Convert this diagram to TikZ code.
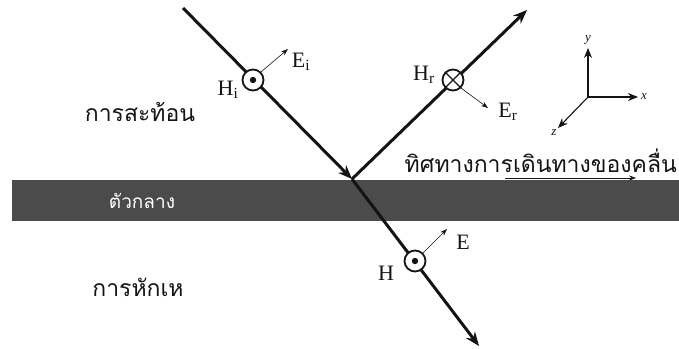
\documentclass[tikz,border=0pt]{standalone}
\usepackage{fontspec}
\setmainfont{Liberation Serif}
\newfontfamily\thai[Script=Thai]{Loma}
\usetikzlibrary{arrows.meta,positioning,calc}
\definecolor{ink}{HTML}{141414}
\definecolor{slab}{HTML}{4B4B4B}
\newcommand{\thaitext}{\thai\fontsize{23}{23}\selectfont}
\newcommand{\symtext}{\fontsize{22}{22}\selectfont}

\begin{document}
\begin{tikzpicture}[x=1pt,y=-1pt,
  ray/.style={ink,line width=3pt,-{Stealth[length=14pt,width=11pt]}},
  field/.style={ink,line width=.6pt,-{Stealth[length=7pt,width=5pt]}},
  pole/.style={circle,draw=ink,line width=1.8pt,fill=white,minimum size=21pt,inner sep=0pt},
  axis/.style={ink,line width=1.1pt,-{Stealth[length=10pt,width=8pt]}},
  lbl/.style={inner sep=0pt,text=ink}]
\useasboundingbox (0,0) rectangle (679,348);
% medium
\fill[slab] (12,180) rectangle (679,221);
\node[lbl,text=white] (medium) at (142,201) {\thai\fontsize{19}{19}\selectfont ตัวกลาง};
% rays
\coordinate (src) at (183,8);
\coordinate (hit) at (352,179);
\coordinate (refl) at (527,10);
\coordinate (out) at (479,346);
\draw[ray] (src) -- (hit);
\draw[ray] (hit) -- (refl);
\draw[ray] (hit) -- (out);
% incident
\node[pole] (Hi) at (253,80) {};
\fill[ink] (Hi) circle (3.2);
\coordinate (Ei) at (288,49);
\draw[field] (Hi.north east) -- (Ei);
\node[lbl] (Hil) at (228,90) {\symtext H$_\mathrm{i}$};
\node[lbl] (Eil) at (301,62) {\symtext E$_\mathrm{i}$};
% reflected
\node[pole] (Hr) at (453,80) {};
\draw[ink,line width=1.2pt] (Hr.45) -- (Hr.225) (Hr.135) -- (Hr.315);
\coordinate (Er) at (488,108);
\draw[field] (Hr.south east) -- (Er);
\node[lbl] (Hrl) at (424,75) {\symtext H$_\mathrm{r}$};
\node[lbl] (Erl) at (508,112) {\symtext E$_\mathrm{r}$};
% transmitted
\node[pole] (Ht) at (415,261) {};
\fill[ink] (Ht) circle (3.2);
\coordinate (Et) at (447,229);
\draw[field] (Ht.north east) -- (Et);
\node[lbl] (Htl) at (386,273) {\symtext H};
\node[lbl] (Etl) at (463,242) {\symtext E};
% axes
\coordinate (o) at (588,97);
\coordinate (ya) at (588,48);
\coordinate (xa) at (638,97);
\coordinate (za) at (558,128);
\draw[axis] (o) -- (ya);
\draw[axis] (o) -- (xa);
\draw[axis] (o) -- (za);
\node[lbl,above=3pt of ya] (yl) {\fontsize{13}{13}\selectfont\itshape y};
\node[lbl,right=3pt of xa] (xl) {\fontsize{13}{13}\selectfont\itshape x};
\node[lbl,below left=2pt of za] (zl) {\fontsize{13}{13}\selectfont\itshape z};
% texts
\node[lbl] (reflt) at (140,112) {\thaitext การสะท้อน};
\node[lbl] (refrt) at (138,287) {\thaitext การหักเห};
\node[lbl,anchor=east] (prop) at (677,161) {\thaitext ทิศทางการเดินทางของคลื่น};
\coordinate (pa) at (505,178);
\coordinate (pb) at (636,178);
\draw[field] (pa) -- (pb);
\end{tikzpicture}
\end{document}
